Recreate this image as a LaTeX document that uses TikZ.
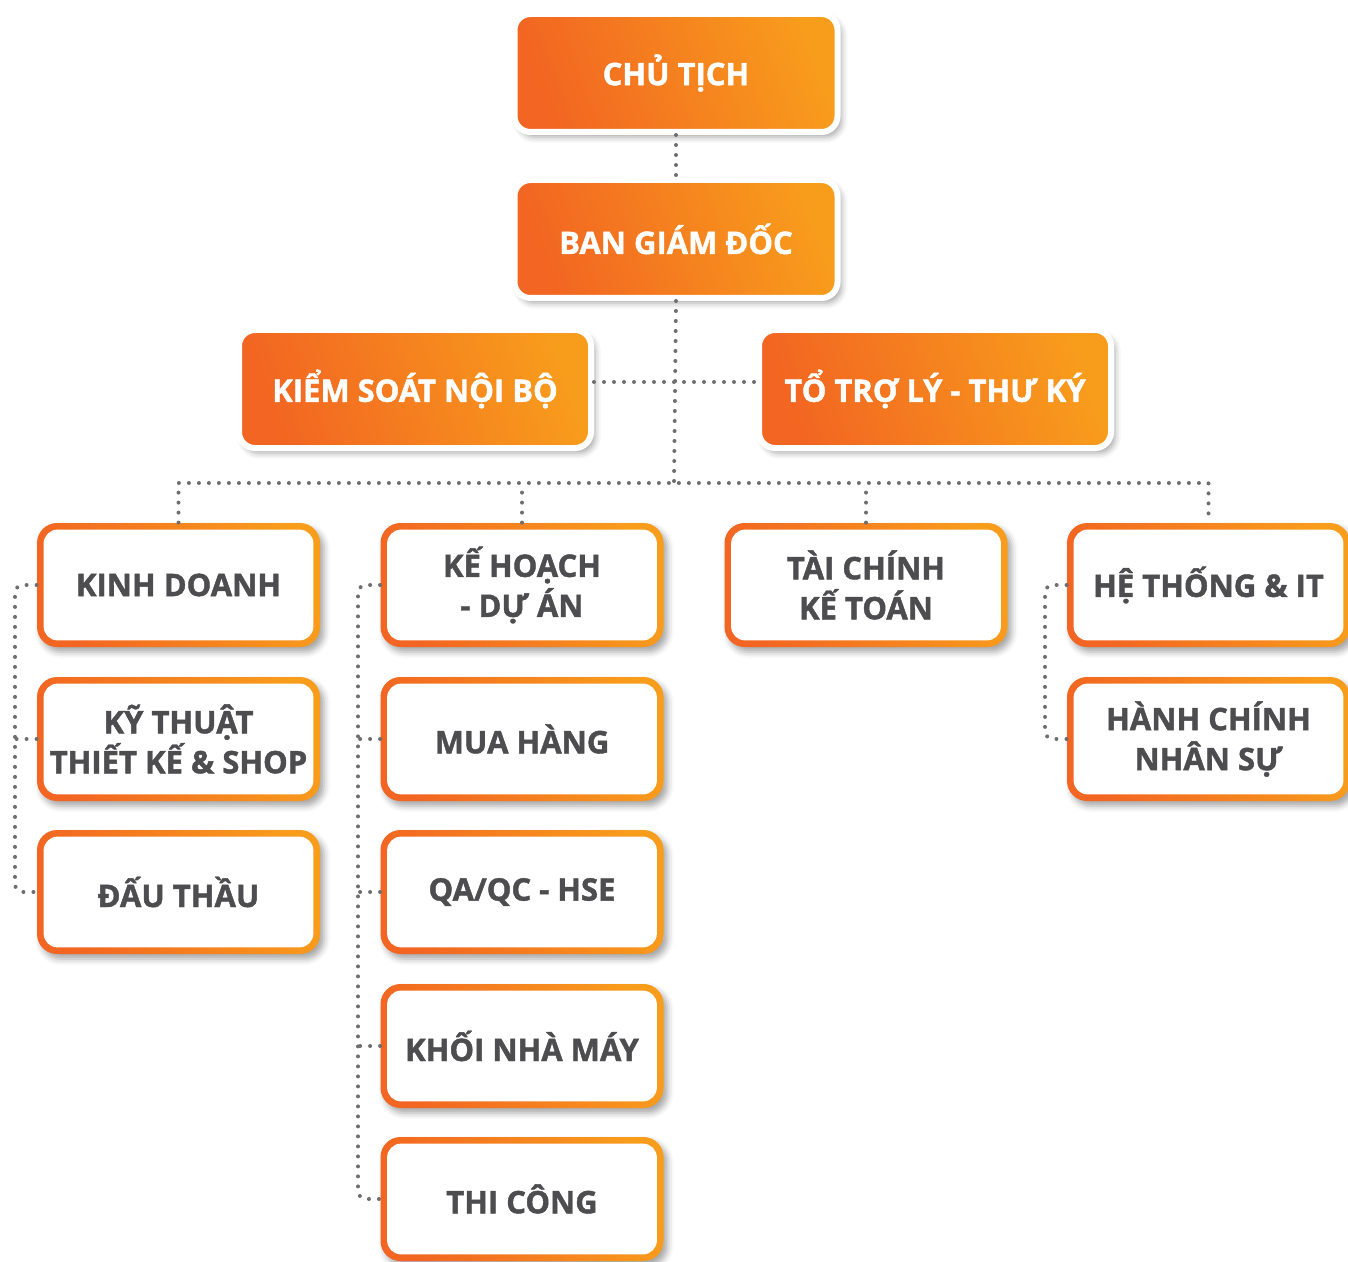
\documentclass[tikz,border=0pt]{standalone}
\usepackage{fontspec}
\setmainfont{Open Sans}[BoldFeatures={FakeBold=1.4}]
\usetikzlibrary{shadows.blur}

\definecolor{orgdark}{HTML}{F26522}
\definecolor{orglight}{HTML}{F89C1C}
\definecolor{txtgray}{HTML}{4D4D4F}
\definecolor{dotgray}{HTML}{6D6E71}

\tikzset{
    boxfont/.style={font=\fontsize{15.5}{20}\selectfont\bfseries},
    softshadow/.style={blur shadow={shadow xshift=2pt, shadow yshift=-2.5pt, shadow blur radius=3pt, shadow opacity=35}},
    leadbox/.style={boxfont, softshadow, rounded corners=8pt, left color=orgdark, right color=orglight,
        shading angle=110, draw=white, line width=3pt, minimum height=59pt, text=white},
    deptbox/.style={boxfont, softshadow, rounded corners=10pt, left color=orgdark, right color=orglight,
        shading angle=110, minimum width=141.5pt, minimum height=62pt, text=txtgray, align=center,
        path picture={\fill[white, rounded corners=7pt]
            ([xshift=3.3pt,yshift=-3.3pt]path picture bounding box.north west) rectangle
            ([xshift=-3.3pt,yshift=3.3pt]path picture bounding box.south east);}},
    link/.style={draw=dotgray, line width=2pt, line cap=round, dash pattern=on 0pt off 5pt}
}

\begin{document}
\begin{tikzpicture}[x=0.5pt, y=-0.5pt]
    \useasboundingbox (0,0) rectangle (1348,1262);

    % helper points
    \coordinate (bus) at (674,483);
    \coordinate (rail1) at (15,0);
    \coordinate (rail2) at (358,0);
    \coordinate (rail4) at (1045,0);

    % top of the chart
    \node[leadbox, minimum width=161.5pt] (chutich) at (676,73) {CHỦ TỊCH};
    \node[leadbox, minimum width=161.5pt] (bangiamdoc) at (676,239) {BAN GIÁM ĐỐC};
    \node[leadbox, minimum width=176pt] (kiemsoat) at (415,389) {KIỂM SOÁT NỘI BỘ};
    \node[leadbox, minimum width=176pt] (totroly) at (935,389) {TỔ TRỢ LÝ - THƯ KÝ};

    \draw[link] (chutich.south) -- (bangiamdoc.north);
    \draw[link] (bangiamdoc.south) -- (bus);
    \draw[link] ([yshift=3.5pt]kiemsoat.east) -- ([yshift=3.5pt]totroly.west);

    \node[deptbox] (kinhdoanh) at (178.5,585) {KINH DOANH};
    \node[deptbox] (kythuat) at (178.5,739) {KỸ THUẬT\\THIẾT KẾ \& SHOP};
    \node[deptbox] (dauthau) at (178.5,892) {ĐẤU THẦU};

    \node[deptbox] (kehoach) at (522,585) {KẾ HOẠCH\\- DỰ ÁN};
    \node[deptbox] (muahang) at (522,739) {MUA HÀNG};
    \node[deptbox] (qaqc) at (522,892) {QA/QC - HSE};
    \node[deptbox] (nhamay) at (522,1046) {KHỐI NHÀ MÁY};
    \node[deptbox] (thicong) at (522,1199) {THI CÔNG};

    \node[deptbox] (taichinh) at (866,585) {TÀI CHÍNH\\KẾ TOÁN};

    \node[deptbox] (hethong) at (1208.5,585) {HỆ THỐNG \& IT};
    \node[deptbox] (hanhchinh) at (1208.5,739) {HÀNH CHÍNH\\NHÂN SỰ};

    % bus down to the four heads
    \draw[link] (kinhdoanh.north) -- (kinhdoanh.north |- bus) -- (hethong.north |- bus) -- (hethong.north);
    \draw[link] (kehoach.north) -- (kehoach.north |- bus);
    \draw[link] (taichinh.north) -- (taichinh.north |- bus);

    % side rails
    \draw[link, rounded corners=4pt] (kinhdoanh.west) -| (rail1 |- dauthau.west) -- (dauthau.west);
    \draw[link] (kythuat.west) -- (kythuat.west -| rail1);
    \draw[link, rounded corners=4pt] (kehoach.west) -| (rail2 |- thicong.west) -- (thicong.west);
    \draw[link] (muahang.west) -- (muahang.west -| rail2);
    \draw[link] (qaqc.west) -- (qaqc.west -| rail2);
    \draw[link] (nhamay.west) -- (nhamay.west -| rail2);
    \draw[link, rounded corners=4pt] (hethong.west) -| (rail4 |- hanhchinh.west) -- (hanhchinh.west);
\end{tikzpicture}
\end{document}
